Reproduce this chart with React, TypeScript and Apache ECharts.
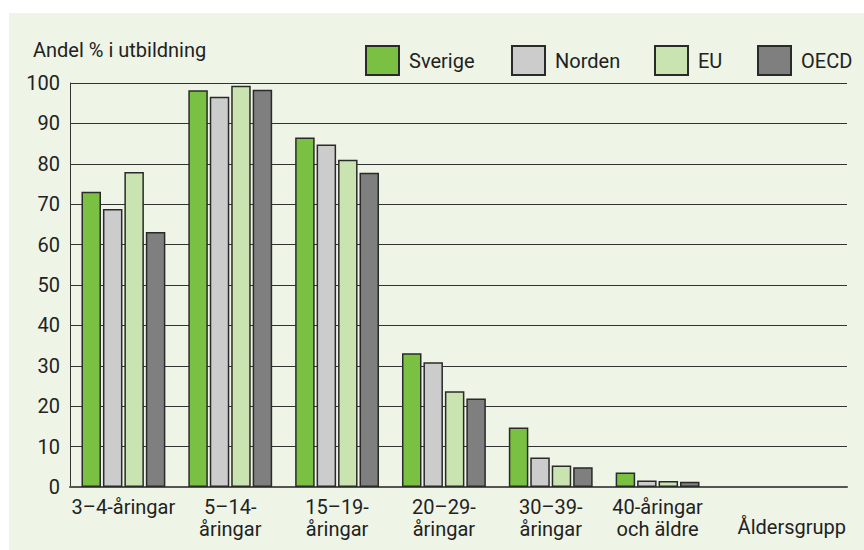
import React, { useEffect, useRef } from "react";
import * as echarts from "echarts";

const categories = ["3–4-åringar", "5–14-\nåringar", "15–19-\nåringar", "20–29-\nåringar", "30–39-\nåringar", "40-åringar\noch äldre"];
const seriesNames = ["Sverige", "Norden", "EU", "OECD"];
const sverige = [73.1, 98.2, 86.5, 33.1, 14.7, 3.6];
const norden = [68.8, 96.6, 84.8, 30.9, 7.3, 1.6];
const eu = [78.0, 99.3, 81.0, 23.7, 5.3, 1.5];
const oecd = [63.1, 98.3, 77.8, 21.9, 4.9, 1.3];
const colors = ["#7ac143", "#cccccc", "#c9e4b0", "#7f7f7f"];
const yTitle = "Andel % i utbildning";
const xTitle = "Åldersgrupp";

const FONT = "Roboto, 'Liberation Sans', sans-serif";

export default function App() {
  const ref = useRef<HTMLDivElement>(null);
  useEffect(() => {
    if (!ref.current) return;
    const chart = echarts.init(ref.current, null, { renderer: "svg" });
    const values = [sverige, norden, eu, oecd];
    const legendLefts = [365, 511, 654, 757];
    const option: any = {
      animation: false,
      textStyle: { fontFamily: FONT, color: "#222" },
      legend: seriesNames.map((n, i) => ({
        data: [n],
        left: legendLefts[i],
        top: 45,
        padding: 0,
        itemWidth: 33,
        itemHeight: 29,
        icon: "rect",
        selectedMode: false,
        textStyle: { fontFamily: FONT, fontSize: 20, color: "#222", padding: [0, 0, 0, 5] },
      })),
      grid: [
        { left: 70, top: 83, width: 641, height: 404 },
        { left: 70, top: 83, right: 17, height: 404 },
      ],
      xAxis: [
        {
          type: "category",
          gridIndex: 0,
          data: categories,
          axisLine: { show: false },
          axisTick: { show: false },
          axisLabel: { interval: 0, fontFamily: FONT, fontSize: 20, lineHeight: 22, color: "#222", margin: 9 },
        },
        {
          type: "value",
          gridIndex: 1,
          min: 0,
          max: 1,
          axisLine: { show: true, lineStyle: { color: "#555", width: 2 } },
          axisTick: { show: false },
          axisLabel: { show: false },
          splitLine: { show: false },
        },
      ],
      yAxis: [
        { type: "value", gridIndex: 0, min: 0, max: 100, interval: 10, show: false },
        {
          type: "value",
          gridIndex: 1,
          min: 0,
          max: 100,
          interval: 10,
          axisLine: { show: true, lineStyle: { color: "#333", width: 1 } },
          axisTick: { show: false },
          axisLabel: { fontFamily: FONT, fontSize: 20, color: "#222", margin: 10 },
          splitLine: { show: true, lineStyle: { color: "#333", width: 1 } },
        },
      ],
      series: seriesNames.map((n, i) => ({
        name: n,
        type: "bar",
        xAxisIndex: 0,
        yAxisIndex: 0,
        data: values[i],
        barWidth: 19.5,
        barGap: "10%",
        itemStyle: { color: colors[i], borderColor: "#2a2a2a", borderWidth: 1.5 },
        z: 3,
      })),
      graphic: [
        {
          type: "text",
          left: 33,
          top: 40,
          style: { text: yTitle, fontFamily: FONT, fontSize: 20, fill: "#222" },
        },
        {
          type: "text",
          right: 18,
          top: 517,
          style: { text: xTitle, fontFamily: FONT, fontSize: 20, fill: "#222" },
        },
      ],
    };
    chart.setOption(option);
    return () => chart.dispose();
  }, []);
  return (
    <div style={{ position: "fixed", left: 0, top: 0, width: 864, height: 550, background: "#ffffff" }}>
      <div style={{ position: "absolute", left: 9, top: 13, width: 855, height: 537, background: "#eef4e6" }} />
      <div ref={ref} style={{ position: "absolute", left: 0, top: 0, width: 864, height: 550 }} />
    </div>
  );
}
